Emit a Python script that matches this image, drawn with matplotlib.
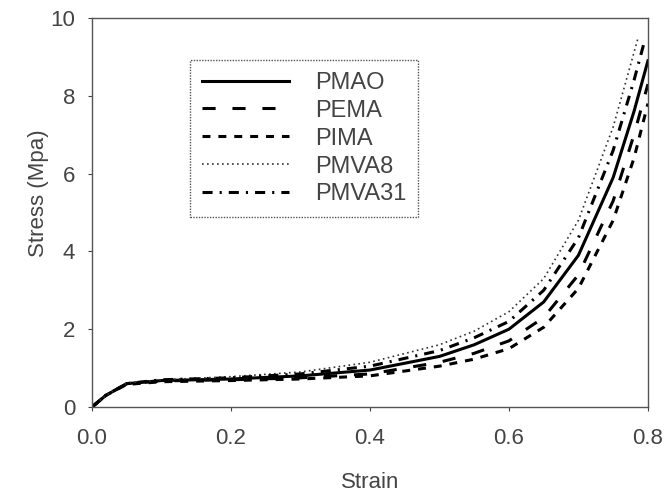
import matplotlib
matplotlib.use('Agg')
import matplotlib.pyplot as plt
import numpy as np

plt.rcParams['font.family'] = ['Liberation Sans', 'DejaVu Sans']

# valores
strain = [0, 0.02, 0.05, 0.1, 0.2, 0.3, 0.4, 0.5, 0.55, 0.6, 0.65, 0.7, 0.75, 0.78, 0.8]
pmao = [0, 0.3, 0.6, 0.68, 0.72, 0.8, 0.95, 1.3, 1.6, 2.0, 2.7, 3.9, 5.9, 7.6, 8.9]
pema = [0, 0.3, 0.6, 0.67, 0.7, 0.75, 0.85, 1.15, 1.38, 1.7, 2.3, 3.4, 5.3, 7.0, 8.3]
pima = [0, 0.3, 0.58, 0.65, 0.68, 0.72, 0.8, 1.05, 1.23, 1.5, 2.05, 3.05, 4.8, 6.4, 7.8]
strain_v8 = [0, 0.02, 0.05, 0.1, 0.2, 0.3, 0.4, 0.5, 0.55, 0.6, 0.65, 0.7, 0.75, 0.786]
pmva8 = [0, 0.3, 0.62, 0.7, 0.78, 0.9, 1.15, 1.6, 1.95, 2.45, 3.3, 4.8, 7.2, 9.5]
strain_v31 = [0, 0.02, 0.05, 0.1, 0.2, 0.3, 0.4, 0.5, 0.55, 0.6, 0.65, 0.7, 0.75, 0.78, 0.795]
pmva31 = [0, 0.3, 0.6, 0.7, 0.75, 0.85, 1.05, 1.45, 1.78, 2.2, 3.0, 4.35, 6.6, 8.4, 9.4]

gris = '#444444'

fig = plt.figure(figsize=(6.69, 5.0), dpi=100)
ax = fig.add_axes([0.1375, 0.186, 0.831, 0.778])

ax.plot(strain, pmao, color='k', lw=2.2, ls='-', label='PMAO')
ax.plot(strain, pema, color='k', lw=2.2, ls=(0, (4.3, 5.5)), label='PEMA')
ax.plot(strain, pima, color='k', lw=2.2, ls=(0, (2.6, 2.6)), label='PIMA')
ax.plot(strain_v8, pmva8, color='#333333', lw=1.2, ls=(0, (1, 2)), label='PMVA8')
ax.plot(strain_v31, pmva31, color='k', lw=2.2, ls=(0, (3.3, 2.3, 0.7, 2.3)), label='PMVA31')

ax.set_xlim(0, 0.8)
ax.set_ylim(0, 10)
ax.set_xticks([0.0, 0.2, 0.4, 0.6, 0.8])
ax.set_xticklabels(['0.0', '0.2', '0.4', '0.6', '0.8'])
ax.set_yticks([0, 2, 4, 6, 8, 10])
ax.tick_params(direction='out', length=3, width=0.8, colors=gris, labelsize=16)
ax.tick_params(axis='y', pad=9)
ax.tick_params(axis='x', pad=12)
for s in ax.spines.values():
    s.set_color('#555555')
    s.set_linewidth(1.0)
    s.set_linestyle((0, (1, 1)))

ax.set_xlabel('Strain', fontsize=16, color=gris)
ax.set_ylabel('Stress (Mpa)', fontsize=16, color=gris)
ax.xaxis.set_label_coords(0.5, -0.167)
ax.yaxis.set_label_coords(-0.077, 0.55)

leg = ax.legend(loc='upper left', bbox_to_anchor=(0.176, 0.892), fontsize=17,
                handlelength=3.7, handletextpad=1.1, fancybox=False, framealpha=1,
                borderpad=0.5, borderaxespad=0, labelspacing=0.25)
leg.get_frame().set_edgecolor('#555555')
leg.get_frame().set_linestyle((0, (1, 1)))
for t in leg.get_texts():
    t.set_color(gris)

fig.savefig('out.png', dpi=100)
